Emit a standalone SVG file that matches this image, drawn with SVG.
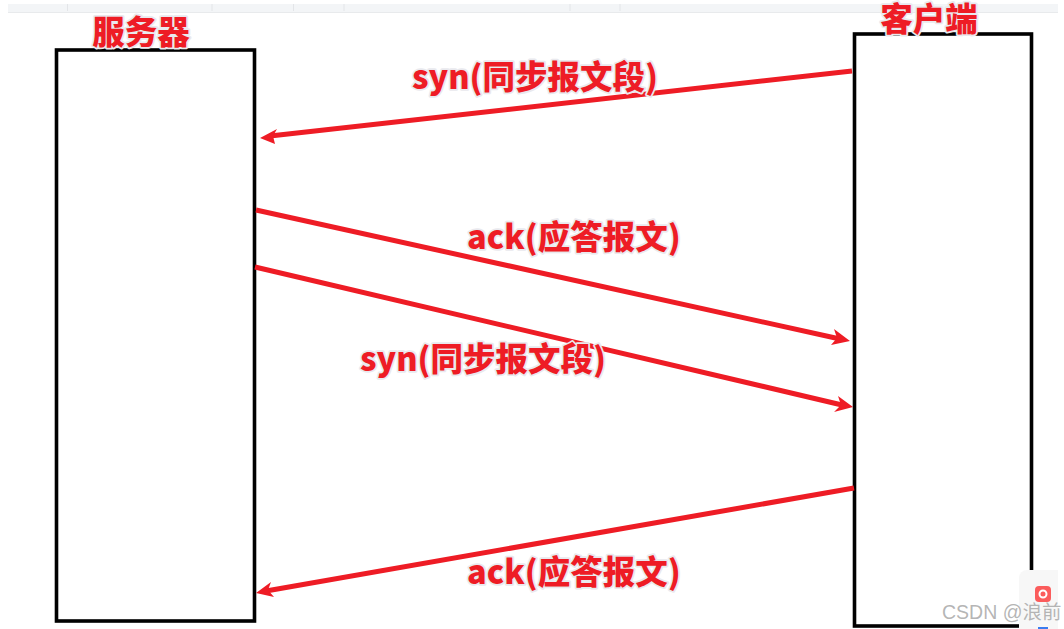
<svg xmlns="http://www.w3.org/2000/svg" width="1064" height="629" viewBox="0 0 1064 629">
<style>
.box{fill:#fff;stroke:#000;stroke-width:3.6}
.c{fill:none;stroke:#ee1c25;stroke-width:5}
.h{fill:#ee1c25}
.t{font-family:"Noto Sans CJK SC","Liberation Sans",sans-serif;font-weight:900;font-size:32.500px;fill:#ee1c25;stroke:#e9e9ee;stroke-width:3.500;paint-order:stroke;stroke-linejoin:round}
.d{stroke:#e3e5e8;stroke-width:1}
</style>
<rect width="1064" height="629" fill="#fff"/>
<g id="toolbar">
<rect x="8" y="4" width="1050" height="8.500" fill="#f3f5f7"/>
<path class="d" d="M67.500 4V11M212 4V11M293.500 4V11M344 4V11M570 4V11M620 4V11"/>
<rect x="8" y="12" width="1050" height="1" fill="#e8eaec"/>
</g>
<g id="server"><rect class="box" x="56.500" y="50" width="198" height="571"/><text class="t" x="141" y="44" text-anchor="middle">服务器</text></g>
<g id="client"><rect class="box" x="854.500" y="34" width="177" height="592"/><text class="t" x="929" y="31" text-anchor="middle">客户端</text></g>
<g id="connectors">
<path class="c" d="M852 71L270 136"/><path class="h" d="M260 138L277 129L273 136L275 144Z"/>
<path class="c" d="M256 210L840 339"/><path class="h" d="M850 341L834 329L837 338L831 345Z"/>
<path class="c" d="M255 267L842 405"/><path class="h" d="M853 407L838 396L841 405L834 412Z"/>
<path class="c" d="M854 488L266 591"/><path class="h" d="M256 593L271 582L268 590L274 597Z"/>
</g>
<g id="labels">
<text class="t" x="412" y="89">syn(同步报文段)</text>
<text class="t" x="467" y="249">ack(应答报文)</text>
<text class="t" x="360" y="371">syn(同步报文段)</text>
<text class="t" x="467" y="584">ack(应答报文)</text>
</g>
<g id="widget">
<path d="M1058 570H1027A8 8 0 0 0 1019 578V629H1058Z" fill="#f7f7f7"/>
<rect x="1035" y="586" width="16" height="16" rx="4" fill="#fb5c5c"/>
<circle cx="1043" cy="594" r="3.500" fill="none" stroke="#fff" stroke-width="2"/>
<rect x="1038" y="627" width="10" height="2" fill="#3a7cf0"/>
</g>
<text id="watermark" x="942" y="619" font-family="'Liberation Sans','Noto Sans CJK SC',sans-serif" font-size="19.500" fill="#a8a8a8" fill-opacity=".85">CSDN @浪前</text>
</svg>
